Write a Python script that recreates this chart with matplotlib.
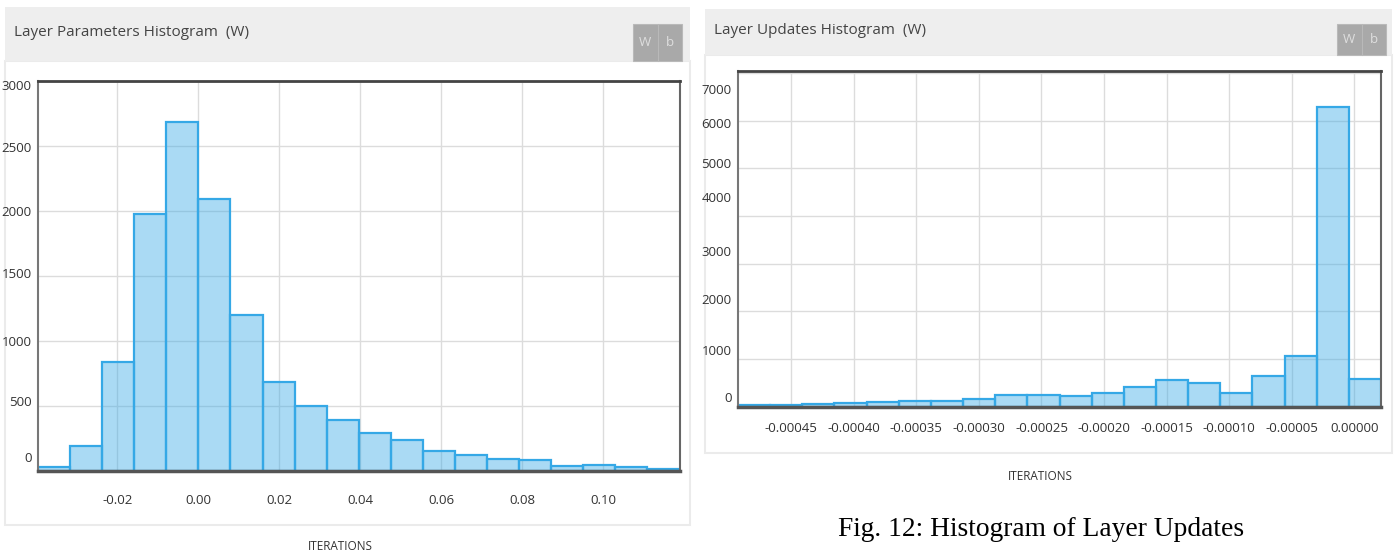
import matplotlib
matplotlib.use("Agg")
import matplotlib.pyplot as plt
import matplotlib.transforms as mtransforms
from matplotlib import font_manager
from matplotlib.patches import Rectangle
import numpy as np

# histogram of layer parameters (W)
param_bin_start = -0.03958
param_bin_width = 0.007918
param_counts = [30, 190, 835, 1975, 2680, 2088, 1195, 684, 498, 389,
                285, 232, 152, 122, 88, 84, 38, 44, 27, 14]
param_xticks = [-0.02, 0.00, 0.02, 0.04, 0.06, 0.08, 0.10]
param_xlabels = ['-0.02', '0.00', '0.02', '0.04', '0.06', '0.08', '0.10']
param_yticks = [0, 500, 1000, 1500, 2000, 2500, 3000]

# histogram of layer updates (W)
upd_bin_start = -0.0004924
upd_bin_width = 0.00002568
upd_counts = [22, 35, 50, 75, 92, 105, 122, 158, 232, 245,
              226, 280, 406, 566, 490, 273, 636, 1069, 6290, 580]
upd_xticks = [-0.00045, -0.00040, -0.00035, -0.00030, -0.00025,
              -0.00020, -0.00015, -0.00010, -0.00005, 0.0]
upd_xlabels = ['-0.00045', '-0.00040', '-0.00035', '-0.00030', '-0.00025',
               '-0.00020', '-0.00015', '-0.00010', '-0.00005', '0.00000']
upd_yticks = [0, 1000, 2000, 3000, 4000, 5000, 6000, 7000]

# the screenshot's y labels don't sit exactly on their gridlines (px, up = +)
param_ylabel_nudge = [13, 5, 0, 2, 0, -2, -4]
upd_ylabel_nudge = [9, 9, 12, 13, 19, 5, -2, -16]

W, H = 1395, 557
names = {f.name for f in font_manager.fontManager.ttflist}
ui_font = 'Liberation Sans Narrow' if 'Liberation Sans Narrow' in names else 'Open Sans'
plt.rcParams['font.family'] = [ui_font, 'DejaVu Sans']

BAR_EDGE = '#35a8e6'
BAR_FILL = (53 / 255, 168 / 255, 230 / 255, 0.42)


def frect(x0, y0, x1, y1):
    # pixel box (from top-left) -> figure fraction rect
    return [x0 / W, 1 - y1 / H, (x1 - x0) / W, (y1 - y0) / H]


def add_box(fig, box, z, **kw):
    r = frect(*box)
    fig.patches.append(Rectangle((r[0], r[1]), r[2], r[3], transform=fig.transFigure,
                                 zorder=z, **kw))


def panel(fig, x0, x1, top, head_bot, bot, title, btn_x0, btn_x1, btn_top):
    add_box(fig, (x0, head_bot, x1, bot), -3, facecolor='white', edgecolor='#ebebeb', lw=1.5)
    add_box(fig, (x0, top, x1, head_bot), -3, facecolor='#eeeeee', edgecolor='none')
    ymid = 1 - (top + head_bot) / 2 / H
    fig.text((x0 + 9) / W, ymid + 0.003, title, fontsize=11, color='#444444',
             ha='left', va='center')
    mid = (btn_x0 + btn_x1) / 2
    for a, b, lab in [(btn_x0, mid, 'W'), (mid, btn_x1, 'b')]:
        add_box(fig, (a, btn_top, b, head_bot), -2, facecolor='#a9a9a9',
                edgecolor='#b9b9b9', lw=0.8)
        fig.text((a + b) / 2 / W, 1 - (btn_top + head_bot) / 2 / H, lab, fontsize=9.5,
                 color='#dedede', ha='center', va='center')


def hist_axes(fig, rect, start, width, counts, xticks, xlabels, yticks, ylim, xpad, nudges):
    ax = fig.add_axes(rect)
    ax.patch.set_alpha(0)
    edges = start + width * np.arange(len(counts) + 1)
    ax.bar(edges[:-1], counts, width=width, align='edge', color=BAR_FILL,
           edgecolor=BAR_EDGE, linewidth=1.6, zorder=2)
    ax.set_xlim(edges[0], edges[-1])
    ax.set_ylim(*ylim)
    ax.set_xticks(xticks, xlabels)
    ax.set_yticks(yticks, [str(v) for v in yticks])
    ax.grid(True, color='#dcdcdc', linewidth=1.0, zorder=0)
    ax.set_axisbelow(True)
    ax.tick_params(length=0, labelsize=9.5, colors='#333333')
    ax.tick_params(axis='y', pad=4.5)
    ax.tick_params(axis='x', pad=xpad)
    ax.spines['top'].set_color('#444444')
    ax.spines['top'].set_linewidth(2)
    ax.spines['bottom'].set_color('#555555')
    ax.spines['bottom'].set_linewidth(2.5)
    ax.spines['left'].set_color('#777777')
    ax.spines['left'].set_linewidth(1.5)
    ax.spines['right'].set_color('#666666')
    ax.spines['right'].set_linewidth(1.5)
    for lab, n in zip(ax.get_yticklabels(), nudges):
        off = mtransforms.ScaledTranslation(0, n / 100, fig.dpi_scale_trans)
        lab.set_transform(lab.get_transform() + off)
    return ax


fig = plt.figure(figsize=(W / 100, H / 100), dpi=100)
fig.patch.set_facecolor('white')

# left panel
panel(fig, 5, 690, 7, 61, 525, 'Layer Parameters Histogram  (W)', 633, 682, 24)
hist_axes(fig, frect(38, 80.5, 679.5, 470.5), param_bin_start, param_bin_width, param_counts,
          param_xticks, param_xlabels, param_yticks, (0, 3000), 17, param_ylabel_nudge)
fig.text(340 / W, 1 - 547 / H, 'ITERATIONS', fontsize=8.5, color='#333333',
         ha='center', va='center')

# right panel
panel(fig, 705, 1392, 9, 55, 453, 'Layer Updates Histogram  (W)', 1337, 1386, 24)
hist_axes(fig, frect(738, 70.5, 1381, 406.5), upd_bin_start, upd_bin_width, upd_counts,
          upd_xticks, upd_xlabels, upd_yticks, (0, 7050), 11, upd_ylabel_nudge)
fig.text(1040 / W, 1 - 476 / H, 'ITERATIONS', fontsize=8.5, color='#333333',
         ha='center', va='center')

fig.text(1041 / W, 1 - 529 / H, 'Fig. 12: Histogram of Layer Updates',
         fontsize=19.8, family=['Liberation Serif', 'DejaVu Serif'], color='black',
         ha='center', va='center')

fig.savefig('out.png', dpi=100)
